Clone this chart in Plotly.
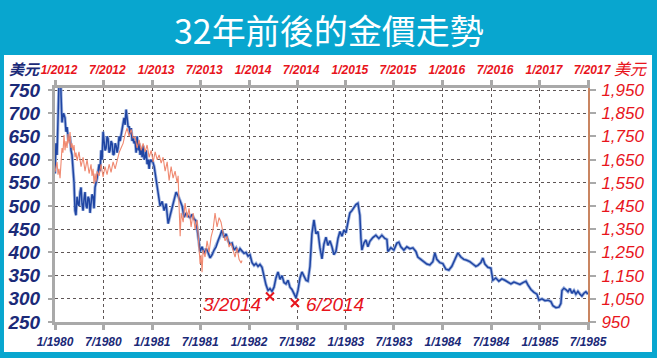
import datetime as dt
import plotly.graph_objects as go

# ---------------- data ----------------
title_text = "32年前後的金價走勢"
unit_label = "美元"

bottom_tick_dates = ["1980-01-01", "1980-07-01", "1981-01-01", "1981-07-01", "1982-01-01", "1982-07-01",
                     "1983-01-01", "1983-07-01", "1984-01-01", "1984-07-01", "1985-01-01", "1985-07-01"]
bottom_tick_text = ["1/1980", "7/1980", "1/1981", "7/1981", "1/1982", "7/1982",
                    "1/1983", "7/1983", "1/1984", "7/1984", "1/1985", "7/1985"]
top_tick_dates = ["2012-01-01", "2012-07-01", "2013-01-01", "2013-07-01", "2014-01-01", "2014-07-01",
                  "2015-01-01", "2015-07-01", "2016-01-01", "2016-07-01", "2017-01-01", "2017-07-01"]
top_tick_text = ["1/2012", "7/2012", "1/2013", "7/2013", "1/2014", "7/2014",
                 "1/2015", "7/2015", "1/2016", "7/2016", "1/2017", "7/2017"]

left_ticks = [250, 300, 350, 400, 450, 500, 550, 600, 650, 700, 750]
right_ticks = [950, 1050, 1150, 1250, 1350, 1450, 1550, 1650, 1750, 1850, 1950]
right_tick_text = ["950", "1,050", "1,150", "1,250", "1,350", "1,450", "1,550", "1,650", "1,750", "1,850", "1,950"]

# gold 1980-1985 (decimal year, USD)
gold_1980s_year = [
    1980.000, 1980.010, 1980.021, 1980.031, 1980.041, 1980.052, 1980.062, 1980.072, 1980.088, 1980.103,
    1980.113, 1980.124, 1980.139, 1980.155, 1980.165, 1980.175, 1980.196, 1980.206, 1980.216, 1980.227,
    1980.237, 1980.247, 1980.258, 1980.268, 1980.278, 1980.289, 1980.299, 1980.309, 1980.320, 1980.330,
    1980.340, 1980.351, 1980.361, 1980.371, 1980.381, 1980.392, 1980.402, 1980.412, 1980.433, 1980.454,
    1980.464, 1980.474, 1980.485, 1980.495, 1980.505, 1980.515, 1980.526, 1980.536, 1980.546, 1980.557,
    1980.567, 1980.577, 1980.588, 1980.598, 1980.608, 1980.619, 1980.629, 1980.639, 1980.649, 1980.660,
    1980.670, 1980.680, 1980.691, 1980.701, 1980.711, 1980.722, 1980.732, 1980.742, 1980.753, 1980.763,
    1980.773, 1980.784, 1980.794, 1980.804, 1980.814, 1980.825, 1980.835, 1980.845, 1980.856, 1980.866,
    1980.876, 1980.887, 1980.897, 1980.907, 1980.918, 1980.928, 1980.938, 1980.948, 1980.959, 1980.969,
    1980.979, 1980.990,
    1981.000, 1981.021, 1981.041, 1981.062, 1981.082, 1981.103, 1981.124, 1981.144, 1981.165, 1981.186,
    1981.206, 1981.227, 1981.247, 1981.268, 1981.289, 1981.309, 1981.330, 1981.351, 1981.371, 1981.392,
    1981.412, 1981.433, 1981.454, 1981.474, 1981.495, 1981.515, 1981.536, 1981.557, 1981.577, 1981.598,
    1981.619, 1981.639, 1981.660, 1981.680, 1981.701, 1981.722, 1981.742, 1981.763, 1981.784, 1981.804,
    1981.825, 1981.845, 1981.866, 1981.887, 1981.907, 1981.928, 1981.948, 1981.969, 1981.990,
    1982.010, 1982.031, 1982.052, 1982.072, 1982.093, 1982.113, 1982.134, 1982.155, 1982.175, 1982.196,
    1982.216, 1982.237, 1982.258, 1982.278, 1982.299, 1982.320, 1982.340, 1982.361, 1982.381, 1982.402,
    1982.423, 1982.443, 1982.464, 1982.485, 1982.505, 1982.526, 1982.546, 1982.567, 1982.588, 1982.608,
    1982.629, 1982.649, 1982.670, 1982.691, 1982.711, 1982.732, 1982.753, 1982.773, 1982.794, 1982.814,
    1982.835, 1982.856, 1982.876, 1982.897, 1982.918, 1982.938, 1982.959, 1982.979,
    1983.000, 1983.021, 1983.041, 1983.062, 1983.082, 1983.103, 1983.124, 1983.144, 1983.155, 1983.165,
    1983.186, 1983.206, 1983.227, 1983.247, 1983.278, 1983.309, 1983.340, 1983.371, 1983.402, 1983.423,
    1983.433, 1983.464, 1983.495, 1983.526, 1983.546, 1983.567, 1983.598, 1983.629, 1983.660, 1983.691,
    1983.722, 1983.742, 1983.773, 1983.804, 1983.835, 1983.866, 1983.897, 1983.918, 1983.938, 1983.969,
    1984.000, 1984.031, 1984.062, 1984.093, 1984.124, 1984.155, 1984.186, 1984.216, 1984.247, 1984.278,
    1984.309, 1984.340, 1984.361, 1984.392, 1984.412, 1984.433, 1984.464, 1984.495, 1984.515, 1984.546,
    1984.577, 1984.608, 1984.639, 1984.670, 1984.701, 1984.732, 1984.763, 1984.794, 1984.825, 1984.856,
    1984.876, 1984.907, 1984.938, 1984.969, 1984.990,
    1985.021, 1985.052, 1985.082, 1985.113, 1985.134, 1985.165, 1985.196, 1985.216, 1985.227, 1985.247,
    1985.268, 1985.289, 1985.309, 1985.330, 1985.351, 1985.371, 1985.392, 1985.412, 1985.433, 1985.454,
    1985.474, 1985.495,
]
gold_1980s_usd = [
    570, 635, 610, 690, 760, 850, 740, 680, 700, 690,
    660, 670, 640, 650, 620, 610, 550, 490, 480, 520,
    505, 500, 530, 540, 505, 490, 515, 530, 500, 495,
    520, 515, 485, 500, 525, 520, 495, 540, 560, 590,
    575, 620, 600, 660, 640, 620, 625, 650, 645, 615,
    620, 640, 635, 610, 612, 635, 630, 615, 625, 650,
    640, 655, 665, 680, 690, 675, 708, 690, 670, 672,
    655, 668, 640, 650, 635, 640, 615, 650, 620, 635,
    610, 625, 605, 630, 600, 605, 620, 590, 600, 580,
    600, 595,
    600, 585, 560, 530, 500, 510, 490, 505, 462, 480,
    495, 515, 530, 522, 510, 500, 476, 485, 478, 475,
    482, 472, 468, 440, 402, 412, 398, 408, 400, 388,
    395, 405, 412, 425, 435, 448, 432, 440, 425, 418,
    420, 405, 410, 400, 408, 402, 398, 400, 392,
    395, 378, 372, 376, 370, 374, 368, 345, 330, 318,
    322, 316, 325, 345, 358, 342, 350, 335, 332, 340,
    325, 320, 312, 302, 318, 345, 358, 348, 340, 338,
    370, 440, 470, 440, 445, 410, 386, 418, 433, 415,
    425, 412, 395, 402, 430, 445, 435, 448,
    442, 465, 485, 490, 498, 503, 506, 480, 430, 405,
    420, 427, 412, 424, 432, 437, 430, 437, 430, 428,
    402, 410, 405, 420, 422, 412, 405, 412, 408, 410,
    402, 390, 385, 380, 375, 373, 380, 399, 385, 378,
    376, 364, 362, 370, 385, 399, 390, 385, 383, 380,
    375, 370, 372, 378, 388, 375, 368, 366, 340, 345,
    338, 343, 340, 336, 332, 336, 333, 331, 335, 338,
    330, 320, 314, 310, 297,
    300, 296, 297, 294, 285, 281, 282, 290, 318, 323,
    320, 315, 322, 312, 318, 310, 316, 310, 306, 312,
    315, 310,
]

# gold 2012-2013 (decimal year, USD)
gold_2010s_year = [
    2012.000, 2012.010, 2012.021, 2012.031, 2012.041, 2012.052, 2012.062, 2012.072, 2012.082, 2012.093,
    2012.103, 2012.113, 2012.124, 2012.134, 2012.144, 2012.155, 2012.165, 2012.175, 2012.186, 2012.196,
    2012.206, 2012.216, 2012.227, 2012.247, 2012.268, 2012.289, 2012.309, 2012.330, 2012.351, 2012.371,
    2012.381, 2012.392, 2012.402, 2012.412, 2012.423, 2012.433, 2012.454, 2012.474, 2012.495, 2012.515,
    2012.536, 2012.557, 2012.577, 2012.598, 2012.619, 2012.639, 2012.660, 2012.680, 2012.701, 2012.722,
    2012.742, 2012.763, 2012.784, 2012.804, 2012.825, 2012.845, 2012.866, 2012.887, 2012.907, 2012.928,
    2012.948, 2012.969, 2012.990,
    2013.010, 2013.031, 2013.052, 2013.072, 2013.093, 2013.113, 2013.134, 2013.155, 2013.175, 2013.196,
    2013.216, 2013.237, 2013.258, 2013.268, 2013.278, 2013.289, 2013.299, 2013.320, 2013.340, 2013.361,
    2013.381, 2013.402, 2013.423, 2013.443, 2013.464, 2013.485, 2013.495, 2013.505, 2013.515, 2013.526,
    2013.546, 2013.567, 2013.588, 2013.608, 2013.629, 2013.649, 2013.670, 2013.691, 2013.711, 2013.732,
    2013.753, 2013.773, 2013.794, 2013.814, 2013.835, 2013.856, 2013.876, 2013.897, 2013.918, 2013.928,
]
gold_2010s_usd = [
    1597, 1620, 1640, 1585, 1610, 1570, 1650, 1700, 1680, 1756,
    1690, 1730, 1700, 1760, 1720, 1769, 1700, 1720, 1690, 1713,
    1660, 1680, 1645, 1683, 1620, 1660, 1600, 1650, 1590, 1630,
    1580, 1610, 1545, 1590, 1555, 1600, 1580, 1630, 1575, 1620,
    1585, 1630, 1595, 1640, 1610, 1650, 1680, 1700, 1720, 1760,
    1786, 1750, 1780, 1743, 1747, 1700, 1735, 1690, 1720, 1683,
    1713, 1660, 1690,
    1640, 1683, 1650, 1670, 1635, 1660, 1600, 1640, 1560, 1620,
    1570, 1600, 1549, 1580, 1450, 1320, 1420, 1380, 1463, 1400,
    1440, 1360, 1420, 1350, 1390, 1270, 1200, 1240, 1165, 1260,
    1230, 1300, 1250, 1316, 1350, 1420, 1360, 1400, 1380, 1333,
    1300, 1320, 1273, 1290, 1260, 1230, 1270, 1220, 1204, 1215,
]

# marked lows: the 1982 lows matched to the 2014 dates
mark_labels = ["3/2014", "6/2014"]
mark_year = [1982.216, 1982.474]
mark_usd = [305, 291]

# ---------------- styling ----------------
NAVY = "#1b2a78"
RED = "#e8141c"
CYAN = "#08a6cf"
GRID = "#5e5656"
AXIS_GRAY = "#a9a9a9"


def to_date(y):
    year = int(y)
    start = dt.datetime(year, 1, 1)
    length = (dt.datetime(year + 1, 1, 1) - start).days
    return start + dt.timedelta(days=(y - year) * length)


blue_x = [to_date(v) for v in gold_1980s_year]
red_x = [to_date(v) for v in gold_2010s_year]
mark_x = [to_date(v) for v in mark_year]

fig = go.Figure()

# blue series with light halo
fig.add_trace(go.Scatter(x=blue_x, y=gold_1980s_usd, mode="lines", xaxis="x", yaxis="y",
                         line=dict(color="#a3b6e0", width=3.2), hoverinfo="skip", showlegend=False))
fig.add_trace(go.Scatter(x=blue_x, y=gold_1980s_usd, mode="lines", xaxis="x", yaxis="y",
                         line=dict(color="#1f45a3", width=1.5), showlegend=False))
# red series (2012-2013, right/top axes)
fig.add_trace(go.Scatter(x=red_x, y=gold_2010s_usd, mode="lines", xaxis="x2", yaxis="y2",
                         line=dict(color="#f0846a", width=1.1), opacity=0.95, showlegend=False))
# markers
fig.add_trace(go.Scatter(x=mark_x, y=mark_usd, mode="markers", xaxis="x", yaxis="y",
                         marker=dict(symbol="x-thin", size=8, line=dict(color=RED, width=2)),
                         showlegend=False))

tick_font_left = dict(family="Liberation Sans, Arial, sans-serif", size=19, color=NAVY,
                      style="italic", weight="bold")
tick_font_right = dict(family="Liberation Sans, Arial, sans-serif", size=17, color=RED,
                       style="italic")
tick_font_bottom = dict(family="Liberation Sans, Arial, sans-serif", size=12, color=NAVY,
                        style="italic", weight="bold")
tick_font_top = dict(family="Liberation Sans, Arial, sans-serif", size=12, color=RED,
                     style="italic", weight="bold")

fig.update_layout(
    width=657, height=358,
    margin=dict(l=55, r=69, t=88, b=36, pad=0),
    paper_bgcolor=CYAN,
    plot_bgcolor="white",
    showlegend=False,
    xaxis=dict(type="date", range=["1980-01-01", "1985-07-01"], tickvals=bottom_tick_dates,
               ticktext=bottom_tick_text, tickfont=tick_font_bottom, showgrid=True,
               gridcolor=GRID, griddash="dot", gridwidth=1, showline=True, linecolor=AXIS_GRAY,
               linewidth=3, ticks="outside", ticklen=5, tickwidth=3, tickcolor=AXIS_GRAY,
               zeroline=False, tickangle=0, automargin=False, ticklabelstandoff=2),
    xaxis2=dict(type="date", range=["2012-01-01", "2017-07-01"], overlaying="x", side="top",
                tickvals=top_tick_dates, ticktext=top_tick_text, tickfont=tick_font_top,
                showgrid=False, showline=True, linecolor=AXIS_GRAY, linewidth=3,
                ticks="outside", ticklen=5, tickwidth=3, tickcolor=AXIS_GRAY, zeroline=False,
                tickangle=0, automargin=False, ticklabelstandoff=1, ticklabelshift=4),
    yaxis=dict(range=[250, 754.3], tickvals=left_ticks, tickfont=tick_font_left, showgrid=True,
               gridcolor=GRID, griddash="dot", gridwidth=1, showline=True, linecolor=AXIS_GRAY,
               linewidth=3, ticks="outside", ticklen=4, tickwidth=2, tickcolor=AXIS_GRAY,
               zeroline=False, ticklabelstandoff=4, automargin=False),
    yaxis2=dict(range=[950, 1958.6], overlaying="y", side="right", tickvals=right_ticks,
                ticktext=right_tick_text, tickfont=tick_font_right, showgrid=False,
                showline=True, linecolor="#c98561", linewidth=2, ticks="outside", ticklen=6,
                tickwidth=2, tickcolor=AXIS_GRAY, zeroline=False, ticklabelstandoff=2,
                automargin=False),
    shapes=[
        dict(type="rect", xref="paper", yref="paper", x0=-0.0957, x1=1.1201, y0=-0.128, y1=1.141,
             fillcolor="white", line=dict(width=0), layer="below"),
    ],
)

annotations = [
    dict(text=title_text, xref="paper", yref="paper", x=0.514, y=1.252, showarrow=False,
         xanchor="center", yanchor="middle",
         font=dict(family="Noto Sans CJK TC, Noto Sans CJK SC, sans-serif", size=34, color="white")),
    dict(text=unit_label, xref="paper", yref="paper", x=-0.0563, y=1.085, showarrow=False,
         xanchor="center", yanchor="middle",
         font=dict(family="Noto Sans CJK TC, sans-serif", size=15, color=NAVY, style="italic",
                   weight="bold")),
    dict(text=unit_label, xref="paper", yref="paper", x=1.0807, y=1.085, showarrow=False,
         xanchor="center", yanchor="middle",
         font=dict(family="Noto Sans CJK TC, sans-serif", size=16, color=RED, style="italic")),
]
for lab, xv, yv, side in zip(mark_labels, mark_x, mark_usd, ["left", "right"]):
    annotations.append(dict(
        text=lab, x=xv, y=yv, xref="x", yref="y", showarrow=False,
        xanchor="right" if side == "left" else "left", yanchor="middle",
        xshift=-7 if side == "left" else 9, yshift=-8 if side == "left" else -2,
        font=dict(family="Liberation Sans, Arial, sans-serif", size=19, color=RED, style="italic")))
fig.update_layout(annotations=annotations)

fig.write_html("out.html", config={"displayModeBar": False},
               post_script="document.body.style.margin='0';document.body.style.padding='0';")
